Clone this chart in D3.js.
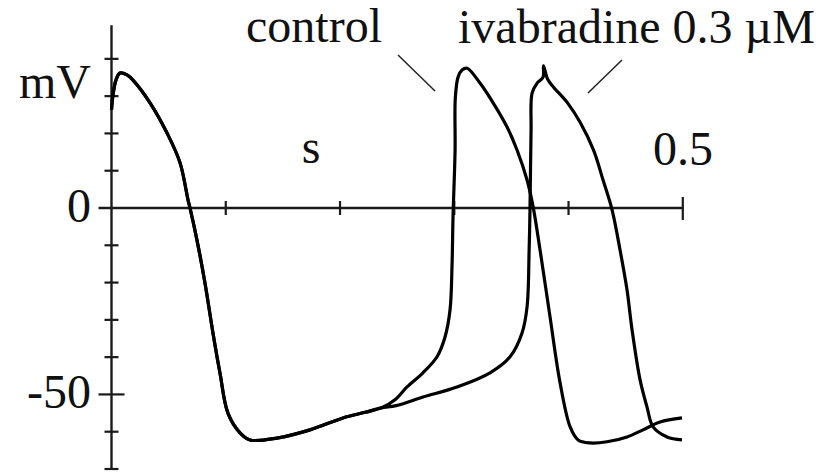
<!doctype html>
<html>
<head>
<meta charset="utf-8">
<style>
  body { margin: 0; background: #fff; }
  text { font-family: "Liberation Serif", "DejaVu Serif", serif; fill: #111; }
</style>
</head>
<body>
<div id="chart"></div>
<script src="https://cdnjs.cloudflare.com/ajax/libs/d3/7.8.5/d3.min.js"></script>
<script>
  // time in ms, membrane potential in mV
  var sharedTime = [0, 1.3, 3.9, 7.4, 13.6, 18.8, 33.7, 48.6, 60, 67, 68.7, 74.8, 81.8, 88.8, 94.9, 101.9, 112.5, 121.2, 144.8, 173.7, 202.6, 222, 236]
  var sharedMv   = [26.3, 30.3, 34.3, 36.2, 35.7, 34.3, 28.2, 20.1, 12.1, 2.1, 0, -8.6, -20.1, -33.5, -44.2, -55, -60.3, -62.2, -61.7, -59.5, -56.3, -54.8, -53.6]

  var controlTime = [249, 258.6, 272.6, 284.9, 291.9, 296.3, 298, 298.9, 300.7, 300.9, 303.3, 306.8, 311.2, 322.5, 334, 346.2, 355, 363.7, 369, 375.1, 383.8, 392.6, 401.4, 408.4, 418.8, 433.7, 451.2, 465.2, 480.1, 499.3]
  var controlMv   = [-51.2, -48, -44.2, -39.9, -34.6, -27.3, -15.8, -2.4, 15.5, 29.5, 35.1, 37, 37.5, 33.5, 28.2, 21.7, 15.5, 7.5, 0.3, -11.3, -29.2, -46.9, -58.7, -62.2, -63, -62.7, -61.4, -59.5, -57.4, -56.3]

  var ivabTime = [249, 272.6, 302.4, 331.3, 348.8, 359.3, 363.7, 365.5, 366.3, 367.2, 368.1, 372.5, 377.7, 378.1, 381.6, 386.9, 399.1, 410.5, 421.9, 430.2, 438.1, 445.1, 451.2, 455.6, 462.6, 468.7, 474, 486.2, 499.3]
  var ivabMv   = [-53, -50.7, -48, -44.2, -39.9, -33.5, -26.5, -11.3, 0.3, 20.9, 30.8, 33.5, 35.1, 38.1, 34.6, 32.4, 28.2, 22.8, 15.5, 7.5, -0.5, -11.3, -22, -32.7, -46.1, -53.4, -58.7, -61.4, -62.2]

  var yTicks = [-70, -60, -50, -40, -30, -20, -10, 0, 10, 20, 30, 40]
  var xTicks = [0.1, 0.2, 0.3, 0.4, 0.5]

  var width = 827, height = 473

  var svg = d3.select('#chart').append('svg')
    .attr('width', width)
    .attr('height', height)

  var x = d3.scaleLinear().domain([0, 0.5]).range([111.5, 682.8])
  var y = d3.scaleLinear().domain([0, -70]).range([208, 469])

  function toPoints(ts, vs) {
    return ts.map((t, i) => [t / 1000, vs[i]])
  }
  var shared = toPoints(sharedTime, sharedMv)
  var control = shared.concat(toPoints(controlTime, controlMv))
  var ivab = shared.concat(toPoints(ivabTime, ivabMv))

  var line = d3.line()
    .x(d => x(d[0]))
    .y(d => y(d[1]))
    .curve(d3.curveCatmullRom.alpha(0.5))

  // axes
  var axisColor = '#1a1a1a'
  svg.append('line')
    .attr('x1', x(0)).attr('x2', x(0))
    .attr('y1', y(49)).attr('y2', y(-70))
    .attr('stroke', axisColor).attr('stroke-width', 2.4)

  svg.append('line')
    .attr('x1', x(0) - 13).attr('x2', x(0.5))
    .attr('y1', y(0)).attr('y2', y(0))
    .attr('stroke', axisColor).attr('stroke-width', 2.4)

  svg.append('g').selectAll('line')
    .data(yTicks.filter(d => d !== 0))
    .enter().append('line')
    .attr('x1', d => x(0) - (d === -50 ? 13 : 7))
    .attr('x2', d => x(0) + (d === -50 ? 13 : 7))
    .attr('y1', d => y(d)).attr('y2', d => y(d))
    .attr('stroke', axisColor).attr('stroke-width', 2.2)

  svg.append('g').selectAll('line')
    .data(xTicks)
    .enter().append('line')
    .attr('x1', d => x(d)).attr('x2', d => x(d))
    .attr('y1', d => y(0) - (d === 0.5 ? 11 : 7))
    .attr('y2', d => y(0) + (d === 0.5 ? 12 : 7))
    .attr('stroke', axisColor).attr('stroke-width', 2.2)

  // traces
  svg.append('path')
    .attr('d', line(control))
    .attr('fill', 'none').attr('stroke', '#000')
    .attr('stroke-width', 3.2).attr('stroke-linejoin', 'round')

  svg.append('path')
    .attr('d', line(ivab))
    .attr('fill', 'none').attr('stroke', '#000')
    .attr('stroke-width', 3.2).attr('stroke-linejoin', 'round')

  // labels
  var fs = '48px'
  svg.append('text').text('mV').attr('x', 91).attr('y', 98).attr('text-anchor', 'end').style('font-size', fs)
  svg.append('text').text('0').attr('x', 91).attr('y', 222).attr('text-anchor', 'end').style('font-size', fs)
  svg.append('text').text('-50').attr('x', 91).attr('y', 408).attr('text-anchor', 'end').style('font-size', fs)
  svg.append('text').text('s').attr('x', 311).attr('y', 163).attr('text-anchor', 'middle').style('font-size', fs)
  svg.append('text').text('0.5').attr('x', 653).attr('y', 165).style('font-size', fs)
  svg.append('text').text('control').attr('x', 246).attr('y', 42).style('font-size', fs)
  svg.append('text').text('ivabradine 0.3 \u00b5M').attr('x', 458).attr('y', 43).style('font-size', fs)

  // leader lines
  svg.append('line').attr('x1', 398).attr('y1', 55).attr('x2', 435).attr('y2', 91)
    .attr('stroke', '#222').attr('stroke-width', 1.5)
  svg.append('line').attr('x1', 622).attr('y1', 60).attr('x2', 588).attr('y2', 93)
    .attr('stroke', '#222').attr('stroke-width', 1.5)
</script>
</body>
</html>
